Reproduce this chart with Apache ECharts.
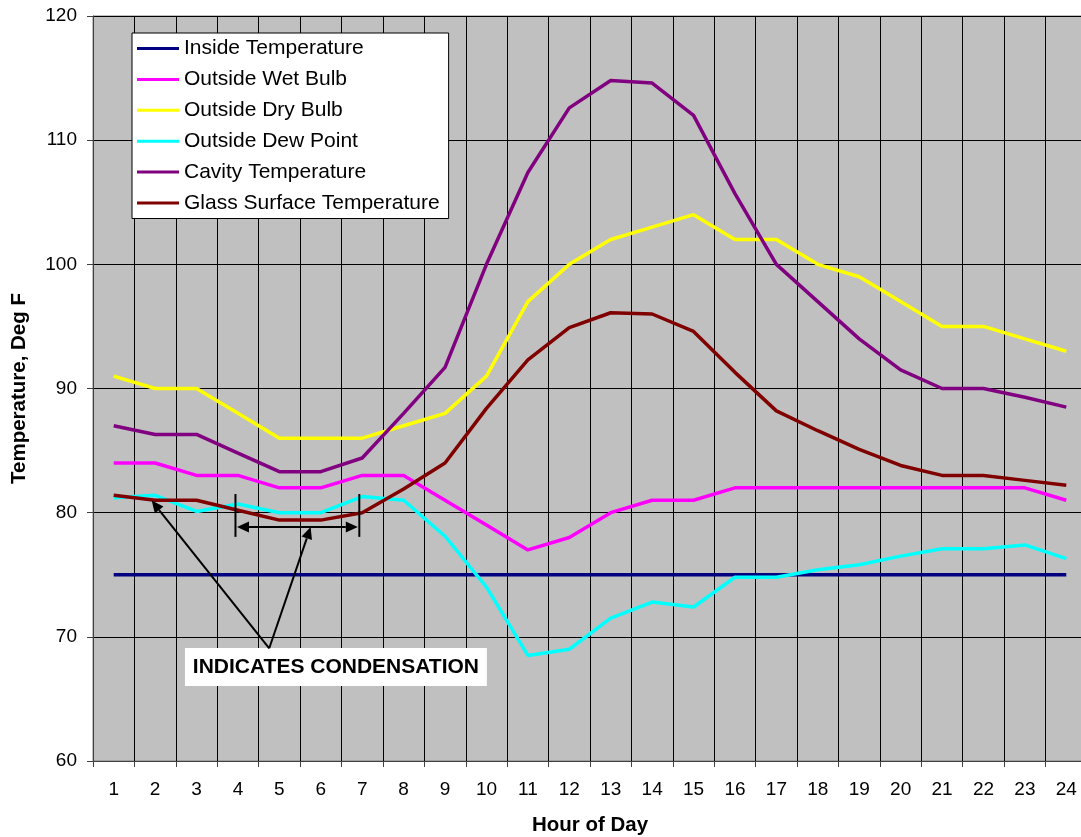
<!DOCTYPE html>
<html>
<head>
<meta charset="utf-8">
<script src="https://cdn.jsdelivr.net/npm/echarts@6/dist/echarts.min.js"></script>
<style>
  html, body { margin: 0; padding: 0; background: #ffffff; overflow: hidden; }
  /* the plot runs a few pixels past the right edge of the window */
  #chart { width: 1087px; height: 837px; }
</style>
</head>
<body>
<div id="chart"></div>
<script>
// Hourly temperatures, deg F
const hours = ['1','2','3','4','5','6','7','8','9','10','11','12','13','14','15','16','17','18','19','20','21','22','23','24'];
const insideTemp   = [75,75,75,75,75,75,75,75,75,75,75,75,75,75,75,75,75,75,75,75,75,75,75,75];
const wetBulb      = [84,84,83,83,82,82,83,83,81,79,77,78,80,81,81,82,82,82,82,82,82,82,82,81];
const dryBulb      = [91,90,90,88,86,86,86,87,88,91,97,100,102,103,104,102,102,100,99,97,95,95,94,93];
const dewPoint     = [81.2,81.4,80.1,80.7,80.0,80.0,81.3,81.0,78.1,74.0,68.5,69.0,71.5,72.8,72.4,74.8,74.8,75.4,75.8,76.5,77.1,77.1,77.4,76.3];
const cavityTemp   = [87.0,86.3,86.3,84.8,83.3,83.3,84.4,88.0,91.7,100.0,107.4,112.6,114.8,114.6,112.0,105.7,100.0,97.0,94.0,91.5,90.0,90.0,89.3,88.5];
const glassSurface = [81.4,81.0,81.0,80.2,79.4,79.4,80.0,81.9,84.0,88.4,92.3,94.9,96.1,96.0,94.6,91.3,88.2,86.6,85.1,83.8,83.0,83.0,82.6,82.2];
const yTicks = { min: 60, max: 120, step: 10 };

// Condensation note, placed in (hour, deg F) coordinates
const noteText = 'INDICATES CONDENSATION';
const condensationSpan = [3.94, 6.93];      // hour range of the bracket
const spanLevel = 78.85;                    // height of the double arrow
const spanBarRange = [78.05, 81.5];         // extent of the bracket end bars
const noteAnchor = [4.755, 69.08];          // arrows start here (top of the note)
const arrowTips = [[1.917, 80.97], [5.755, 78.85]];
const noteBox = [[2.72, 69.1], [10.01, 66.04]];

const FONT = '"Liberation Sans", Arial, Helvetica, sans-serif';

const seriesDefs = [
  { name: 'Inside Temperature',        data: insideTemp,   color: '#000080' },
  { name: 'Outside Wet Bulb',          data: wetBulb,      color: '#FF00FF' },
  { name: 'Outside Dry Bulb',          data: dryBulb,      color: '#FFFF00' },
  { name: 'Outside Dew Point',         data: dewPoint,     color: '#00FFFF' },
  { name: 'Cavity Temperature',        data: cavityTemp,   color: '#800080' },
  { name: 'Glass Surface Temperature', data: glassSurface, color: '#800000' }
];

const chart = echarts.init(document.getElementById('chart'), null, { renderer: 'canvas' });

chart.setOption({
  animation: false,
  textStyle: { fontFamily: FONT },
  grid: {
    left: 93, top: 16, right: 0, height: 745,
    show: true, backgroundColor: '#C0C0C0', borderColor: '#808080', borderWidth: 1,
    containLabel: false,
    outerBoundsMode: 'none'
  },
  legend: {
    orient: 'vertical',
    left: 132, top: 33,
    padding: [5, 9, 5, 5],
    itemGap: 9.9,
    itemWidth: 42,
    itemHeight: 3,
    icon: 'rect',
    backgroundColor: '#ffffff',
    borderColor: '#000000',
    borderWidth: 1,
    borderRadius: 0,
    selectedMode: false,
    textStyle: { fontFamily: FONT, fontSize: 21, color: '#000000' },
    data: seriesDefs.map(s => s.name)
  },
  xAxis: {
    type: 'category',
    data: hours,
    boundaryGap: true,
    name: 'Hour of Day',
    nameLocation: 'middle',
    nameGap: 54,
    nameTextStyle: { fontFamily: FONT, fontWeight: 'bold', fontSize: 20.5, color: '#000000' },
    axisLine: { show: true, lineStyle: { color: '#404040', width: 1 } },
    axisTick: { show: true, interval: 0, length: 6, inside: false, lineStyle: { color: '#404040', width: 1 } },
    axisLabel: { interval: 0, margin: 19, fontFamily: FONT, fontSize: 19, color: '#000000' },
    splitLine: { show: true, interval: 0, lineStyle: { color: '#000000', width: 1 } }
  },
  yAxis: {
    type: 'value',
    min: yTicks.min, max: yTicks.max, interval: yTicks.step,
    name: 'Temperature, Deg F',
    nameLocation: 'middle',
    nameRotate: 90,
    nameGap: 63,
    nameTextStyle: { fontFamily: FONT, fontWeight: 'bold', fontSize: 20.5, color: '#000000' },
    axisLine: { show: true, lineStyle: { color: '#404040', width: 1 } },
    axisTick: { show: true, length: 6, inside: false, lineStyle: { color: '#404040', width: 1 } },
    axisLabel: { margin: 16, fontFamily: FONT, fontSize: 19, color: '#000000' },
    splitLine: { show: true, lineStyle: { color: '#000000', width: 1 } }
  },
  series: seriesDefs.map(s => ({
    type: 'line',
    name: s.name,
    data: s.data,
    color: s.color,
    symbol: 'none',
    smooth: false,
    lineStyle: { width: 3.5, color: s.color },
    emphasis: { disabled: true }
  }))
});

// Pixel position for a fractional hour and a temperature
const x0 = chart.convertToPixel({ xAxisIndex: 0 }, 0);
const bandW = chart.convertToPixel({ xAxisIndex: 0 }, 1) - x0;
function toPx(h, v) {
  return [x0 + (h - 1) * bandW, chart.convertToPixel({ yAxisIndex: 0 }, v)];
}

const HEAD_LEN = 12, HEAD_HALF = 5.5;
function arrowHead(tip, from) {
  const dx = tip[0] - from[0], dy = tip[1] - from[1];
  const len = Math.hypot(dx, dy);
  const ux = dx / len, uy = dy / len;
  const bx = tip[0] - ux * HEAD_LEN, by = tip[1] - uy * HEAD_LEN;
  return {
    base: [bx, by],
    shape: {
      type: 'polygon', z: 100, silent: true,
      shape: { points: [tip, [bx - uy * HEAD_HALF, by + ux * HEAD_HALF], [bx + uy * HEAD_HALF, by - ux * HEAD_HALF]] },
      style: { fill: '#000000' }
    }
  };
}
function lineEl(a, b) {
  return {
    type: 'line', z: 100, silent: true,
    shape: { x1: a[0], y1: a[1], x2: b[0], y2: b[1] },
    style: { stroke: '#000000', lineWidth: 2 }
  };
}

const els = [];
// Bracket end bars
condensationSpan.forEach(h => {
  els.push(lineEl(toPx(h, spanBarRange[1]), toPx(h, spanBarRange[0])));
});
// Double-headed span arrow
const spanL = toPx(condensationSpan[0], spanLevel);
const spanR = toPx(condensationSpan[1], spanLevel);
const hl = arrowHead([spanL[0] + 1.5, spanL[1]], spanR);
const hr = arrowHead([spanR[0] - 1.5, spanR[1]], spanL);
els.push(lineEl(hl.base, hr.base), hl.shape, hr.shape);
// Pointer arrows from the note
const anchor = toPx(noteAnchor[0], noteAnchor[1]);
arrowTips.forEach(t => {
  const tip = toPx(t[0], t[1]);
  const h = arrowHead(tip, anchor);
  els.push(lineEl(anchor, h.base), h.shape);
});
// Note box with its text
const boxA = toPx(noteBox[0][0], noteBox[0][1]);
const boxB = toPx(noteBox[1][0], noteBox[1][1]);
els.push({
  type: 'rect', z: 99, silent: true,
  shape: { x: boxA[0], y: boxA[1], width: boxB[0] - boxA[0], height: boxB[1] - boxA[1] },
  style: { fill: '#ffffff' }
});
els.push({
  type: 'text', z: 101, silent: true,
  x: (boxA[0] + boxB[0]) / 2, y: (boxA[1] + boxB[1]) / 2,
  style: {
    text: noteText, fontFamily: FONT, fontWeight: 'bold', fontSize: 21,
    fill: '#000000', align: 'center', verticalAlign: 'middle'
  }
});

chart.setOption({ graphic: { elements: els } });
</script>
</body>
</html>
